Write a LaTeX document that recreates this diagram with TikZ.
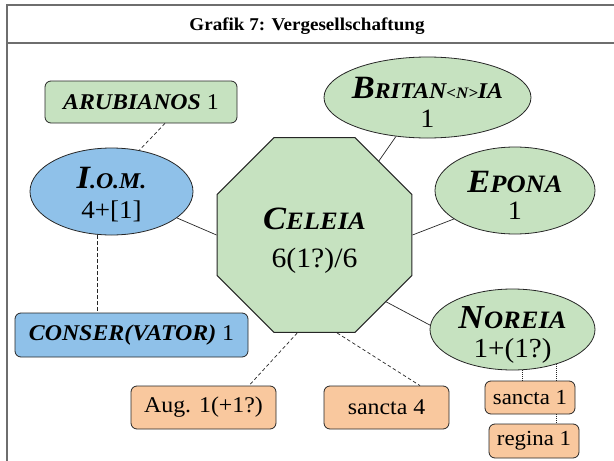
\documentclass[tikz,border=0pt]{standalone}
\usepackage{fontspec}
\setmainfont{Liberation Serif}
\usepackage{graphicx}
\usetikzlibrary{shapes.geometric,calc}
\definecolor{gfill}{RGB}{198,226,192}
\definecolor{bfill}{RGB}{143,193,233}
\definecolor{ofill}{RGB}{249,200,158}
\definecolor{framec}{RGB}{110,110,110}
\newcommand\fs[1]{\fontsize{#1}{#1}\selectfont}
\newcommand\sx[1]{\scalebox{1.06}[1]{#1}}
\begin{document}
\begin{tikzpicture}[x=1pt,y=-1pt,
  box/.style={draw=black!85, line width=0.8pt, rounded corners=6pt, inner sep=0pt},
  ell/.style={draw=black!85, line width=0.8pt, ellipse, inner sep=0pt},
  txt/.style={anchor=base, inner sep=0pt},
  conn/.style={line width=0.7pt, draw=black!85},
  dconn/.style={conn, dash pattern=on 3.5pt off 2.5pt},
  pconn/.style={conn, line width=0.6pt, dash pattern=on 1pt off 1pt}
]
\useasboundingbox (0,0) rectangle (614,461);
\draw[framec, line width=1.3pt] (614,5) -- (7,5) -- (7,461);
\draw[framec, line width=1.3pt] (7,43) -- (614,43);
\node[txt] (title) at (307,30) {\sx{\fs{18}\bfseries Grafik 7: Vergesellschaftung}};

% boxes
\node[box, fill=gfill, minimum width=192pt, minimum height=42pt] (arub) at (141,102)
  {\sx{\fs{22.5}\textbf{\textit{ARUBIANOS}} 1}};
\node[box, fill=bfill, minimum width=233pt, minimum height=44pt] (conser) at (131.5,335)
  {\sx{\fs{22.5}\textbf{\textit{CONSER(VATOR)}} 1}};
\node[box, fill=ofill, minimum width=145pt, minimum height=43pt] (aug) at (203.5,407.5)
  {\sx{\fs{22.5}Aug. 1(+1?)}};
\node[box, fill=ofill, minimum width=125pt, minimum height=43pt] (sanctaf) at (386.5,407.5)
  {\sx{\fs{22.5}sancta 4}};
\node[box, fill=ofill, minimum width=90pt, minimum height=33pt] (sanctao) at (530,397.5)
  {\sx{\fs{21.5}sancta 1}};
\node[box, fill=ofill, minimum width=90pt, minimum height=34pt] (regina) at (534,441)
  {\sx{\fs{21.5}regina 1}};

% ellipses
\node[ell, fill=bfill, minimum width=163pt, minimum height=87pt] (iom) at (111.5,191.5) {};
\node[ell, fill=gfill, minimum width=207pt, minimum height=81pt] (brit) at (427.5,97.5) {};
\node[ell, fill=gfill, minimum width=160pt, minimum height=87pt] (epona) at (515,190.5) {};
\node[ell, fill=gfill, minimum width=165pt, minimum height=81pt] (noreia) at (512.5,329.5) {};

% octagon
\node[regular polygon, regular polygon sides=8, minimum size=211pt, inner sep=0pt,
  draw=black!85, line width=1pt, fill=gfill] (celeia) at (314.5,235) {};

% texts
\node[txt, font=\bfseries\itshape] (iomA) at ($(iom)+(0,-3.5)$) {\sx{\fs{32.5}I\fs{22.5}.O.M.}};
\node[txt] (iomB) at ($(iom)+(0,26.5)$) {\sx{\fs{25.5}4+[1]}};
\node[txt, font=\bfseries\itshape] (britA) at ($(brit)+(0,0.5)$) {\sx{\fs{32.5}B\fs{22.5}RITAN\fs{16}<N>\fs{22.5}IA}};
\node[txt] (britB) at ($(brit)+(0,29.5)$) {\sx{\fs{26.5}1}};
\node[txt, font=\bfseries\itshape] (eponaA) at ($(epona)+(0,1.5)$) {\sx{\fs{32.5}E\fs{25}PONA}};
\node[txt] (eponaB) at ($(epona)+(0,28.5)$) {\sx{\fs{26.5}1}};
\node[txt, font=\bfseries\itshape] (noreiaA) at ($(noreia)+(0,-1.5)$) {\sx{\fs{33.5}N\fs{25}OREIA}};
\node[txt] (noreiaB) at ($(noreia)+(0,27.5)$) {\sx{\fs{27.5}1+(1?)}};
\node[txt, font=\bfseries\itshape] (celeiaA) at ($(celeia)+(0,-6)$) {\sx{\fs{32.5}C\fs{25}ELEIA}};
\node[txt] (celeiaB) at ($(celeia)+(0,32)$) {\sx{\fs{28}6(1?)/6}};

% connectors
\draw[dconn] ([xshift=24pt]arub.south) -- (iom.56);
\draw[dconn] ([xshift=-14.5pt]iom.south) -- ([xshift=-34.5pt]conser.north);
\draw[conn] (iom.-22) -- (celeia.west);
\draw[conn] (brit.-129) -- (celeia.49);
\draw[conn] (epona.-155) -- (celeia.east);
\draw[conn] (noreia.177) -- (celeia.-43);
\draw[dconn] (celeia.-100) -- ([xshift=45.5pt]aug.north);
\draw[dconn] (celeia.-77) -- ([xshift=33.5pt]sanctaf.north);
\draw[pconn] (noreia.-77) -- (noreia.-77 |- sanctao.north);
\draw[pconn] (noreia.-38) -- (noreia.-38 |- sanctao.north);
\draw[pconn] ([xshift=26pt]sanctao.south) -- ([xshift=26pt]sanctao.south |- regina.north);
\end{tikzpicture}
\end{document}
